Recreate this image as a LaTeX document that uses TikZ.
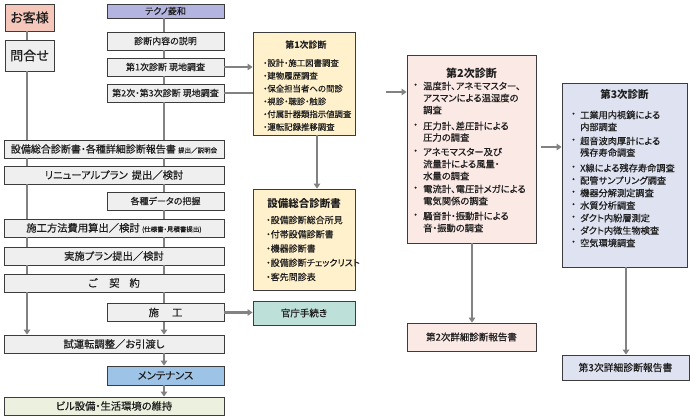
\documentclass[tikz,border=0pt]{standalone}
\usepackage{fontspec}
\setmainfont{Noto Sans CJK JP}[RawFeature=+palt, UprightFeatures={FakeBold=0.4}]
\usetikzlibrary{arrows.meta}
\definecolor{lineC}{RGB}{130,130,130}
\definecolor{edgeC}{RGB}{60,60,60}
\definecolor{txtC}{RGB}{30,30,30}
\definecolor{kyakuC}{RGB}{244,199,186}
\definecolor{grayC}{RGB}{239,239,239}
\definecolor{technoC}{RGB}{180,180,225}
\definecolor{creamC}{RGB}{255,241,204}
\definecolor{tealC}{RGB}{189,224,217}
\definecolor{pinkC}{RGB}{251,233,229}
\definecolor{lavC}{RGB}{222,226,241}
\definecolor{blueC}{RGB}{157,195,230}
\definecolor{greenC}{RGB}{235,241,222}
\tikzset{
  box/.style={draw=edgeC, line width=0.8pt, inner sep=0pt, text=txtC},
  gbox/.style={box, fill=grayC},
  wide/.style={minimum width=220pt, minimum height=18pt},
  narrow/.style={minimum width=117pt, minimum height=18pt},
  conn/.style={draw=lineC, line width=2.4pt},
  arr/.style={conn, -{Triangle[width=6.5pt,length=5pt]}},
  fsmall/.style={font=\fontsize{9}{10}\selectfont},
  fbar/.style={font=\fontsize{10.3}{11}\selectfont},
  item/.style={anchor=west, inner sep=0pt, text=txtC},
  ttl/.style={inner sep=0pt, text=txtC},
}
\begin{document}
\begin{tikzpicture}[x=1pt,y=-1pt]
\useasboundingbox (0,0) rectangle (690,417);
\coordinate (L) at (27,0);
\coordinate (R) at (164,0);
% left column
\node[box, fill=kyakuC, minimum width=49pt, minimum height=27pt, font=\fontsize{13}{14}\selectfont] (kyaku) at (29.5,17.5) {お客様};
\node[gbox, minimum width=49pt, minimum height=31pt, font=\fontsize{13}{14}\selectfont] (toi) at (29.5,55.5) {問合せ};
% right column of the flow
\node[box, fill=technoC, minimum width=117pt, minimum height=14pt, fsmall] (techno) at (165.5,11) {テクノ菱和};
\node[gbox, narrow, fsmall] (setsu) at (165.5,41) {診断内容の説明};
\node[gbox, narrow, fsmall] (gen1) at (165.5,67) {第1次診断 現地調査};
\node[gbox, narrow, fsmall] (gen23) at (165.5,93) {第2次・第3次診断 現地調査};
\node[gbox, wide, font=\fontsize{10}{11}\selectfont] (bar1) at (114,149) {設備総合診断書・各種詳細診断報告書 {\fontsize{6.5}{7}\selectfont 提出／説明会}};
\node[gbox, wide, fbar] (bar2) at (114,175) {リニューアルプラン\hspace{4pt}提出／検討};
\node[gbox, narrow, fsmall] (data) at (165.5,201) {各種データの把握};
\node[gbox, wide, fbar] (bar3) at (114,228) {施工方法費用算出／検討 {\fontsize{6.5}{7}\selectfont (仕様書・見積書提出)}};
\node[gbox, wide, fbar] (bar4) at (114,256) {実施プラン提出／検討};
\node[gbox, wide, fbar] (bar5) at (114,283) {ご\hspace{12pt}契\hspace{10pt}約};
\node[gbox, narrow, fbar] (sekou) at (165.5,312.5) {施\hspace{13pt}工};
\node[gbox, wide, fbar] (shiun) at (114,344) {試運転調整／お引渡し};
\node[box, fill=blueC, minimum width=117pt, minimum height=19pt, fbar] (maint) at (165.5,375.5) {メンテナンス};
\node[box, fill=greenC, wide, fbar] (bill) at (114,406) {ビル設備・生活環境の維持};
% middle column
\node[box, fill=creamC, minimum width=102pt, minimum height=103pt] (d1) at (304,83.5) {};
\node[ttl, font=\fontsize{9}{10}\selectfont\bfseries] (d1t) at (306,45) {第1次診断};
\foreach \y/\t [count=\i] in {63/・設計・施工図書調査, 75.8/・建物履歴調査, 88.6/・保全担当者への問診, 101.4/・視診・聴診・触診, 114.2/・付属計器類指示値調査, 127/・運転記録推移調査}
  \node[item, font=\fontsize{8.4}{9}\selectfont] (d1l\i) at (263,\y) {\t};
\node[box, fill=creamC, minimum width=102pt, minimum height=101pt] (sg) at (304,239.5) {};
\node[ttl, font=\fontsize{10.5}{11}\selectfont\bfseries] (sgt) at (304,204) {設備総合診断書};
\foreach \y/\t [count=\i] in {220/・設備診断総合所見, 234.25/・付帯設備診断書, 248.5/・機器診断書, 262.75/・設備診断チェックリスト, 277/・客先問診表}
  \node[item, font=\fontsize{9}{10}\selectfont] (sgl\i) at (266,\y) {\t};
\node[box, fill=tealC, minimum width=102pt, minimum height=24pt, font=\fontsize{9.5}{10}\selectfont] (kancho) at (304,313) {官庁手続き};
% second diagnosis
\node[box, fill=pinkC, minimum width=129pt, minimum height=188pt] (d2) at (471.5,149) {};
\node[ttl, font=\fontsize{11}{12}\selectfont\bfseries] (d2t) at (471.5,73) {第2次診断};
\foreach \y [count=\i] in {86,126,152,189,216}
  \node[item, font=\fontsize{9.3}{10}\selectfont] (d2b\i) at (413,\y) {・};
\foreach \y/\t [count=\i] in {86/温度計、アネモマスター、, 98/アスマンによる温湿度の, 110/調査, 126/圧力計、差圧計による, 137.5/圧力の調査, 152/アネモマスター及び, 164/流量計による風量・, 176/水量の調査, 189/電流計、電圧計メガによる, 201/電気関係の調査, 216/騒音計・振動計による, 228/音・振動の調査}
  \node[item, font=\fontsize{9.3}{10}\selectfont] (d2l\i) at (423,\y) {\t};
\node[box, fill=pinkC, minimum width=129pt, minimum height=28pt, font=\fontsize{9.5}{10}\selectfont] (r2) at (471.5,337) {第2次詳細診断報告書};
% third diagnosis
\node[box, fill=lavC, minimum width=125pt, minimum height=184pt] (d3) at (624.5,175) {};
\node[ttl, font=\fontsize{10.5}{11}\selectfont\bfseries] (d3t) at (624.5,94) {第3次診断};
\foreach \y [count=\i] in {115,141,168,180.5,193,205.5,218,230.5,243}
  \node[item, font=\fontsize{9.2}{10}\selectfont] (d3b\i) at (571,\y) {・};
\foreach \y/\t [count=\i] in {115/工業用内視鏡による, 127/内部調査, 141/超音波肉厚計による, 152.5/残存寿命調査, 168/X線による残存寿命調査, 180.5/配管サンプリング調査, 193/機器分解測定調査, 205.5/水質分析調査, 218/ダクト内紛層測定, 230.5/ダクト内微生物検査, 243/空気環境調査}
  \node[item, font=\fontsize{9.2}{10}\selectfont] (d3l\i) at (580,\y) {\t};
\node[box, fill=lavC, minimum width=127pt, minimum height=25pt, font=\fontsize{9.8}{10}\selectfont] (r3) at (625.5,367.5) {第3次詳細診断報告書};
% connectors, left line
\draw[conn] (kyaku.south -| L) -- (toi.north -| L);
\draw[conn] (toi.south -| L) -- (bar1.north -| L);
\draw[conn] (bar1.south -| L) -- (bar2.north -| L);
\draw[conn] (bar2.south -| L) -- (bar3.north -| L);
\draw[conn] (bar3.south -| L) -- (bar4.north -| L);
\draw[conn] (bar4.south -| L) -- (bar5.north -| L);
\draw[arr] (bar5.south -| L) -- (shiun.north -| L);
% connectors, right line
\draw[conn] (techno.south -| R) -- (setsu.north -| R);
\draw[conn] (setsu.south -| R) -- (gen1.north -| R);
\draw[conn] (gen1.south -| R) -- (gen23.north -| R);
\draw[conn] (gen23.south -| R) -- (bar1.north -| R);
\draw[conn] (bar1.south -| R) -- (bar2.north -| R);
\draw[conn] (bar2.south -| R) -- (data.north -| R);
\draw[conn] (data.south -| R) -- (bar3.north -| R);
\draw[conn] (bar3.south -| R) -- (bar4.north -| R);
\draw[conn] (bar4.south -| R) -- (bar5.north -| R);
\draw[conn] (bar5.south -| R) -- (sekou.north -| R);
\draw[arr] (sekou.south -| R) -- (shiun.north -| R);
\draw[arr] (shiun.south -| R) -- (maint.north -| R);
\draw[arr] (maint.south -| R) -- (bill.north -| R);
% horizontal connectors
\draw[arr] (gen1.east) -- (gen1.east -| d1.west);
\draw[conn] (gen23.east) -- (gen23.east -| d1.west);
\draw[arr] (sekou.east) -- (sekou.east -| kancho.west);
\coordinate (c1) at (317,0);
\draw[arr] (d1.south -| c1) -- (sg.north -| c1);
\coordinate (a12) at (386,92);
\draw[arr] (a12) -- (a12 -| d2.west);
\coordinate (a23) at (541,147);
\draw[arr] (a23) -- (a23 -| d3.west);
\coordinate (c2) at (472,0);
\draw[arr] (d2.south -| c2) -- (r2.north -| c2);
\coordinate (c3) at (626,0);
\draw[arr] (d3.south -| c3) -- (r3.north -| c3);
\end{tikzpicture}
\end{document}
